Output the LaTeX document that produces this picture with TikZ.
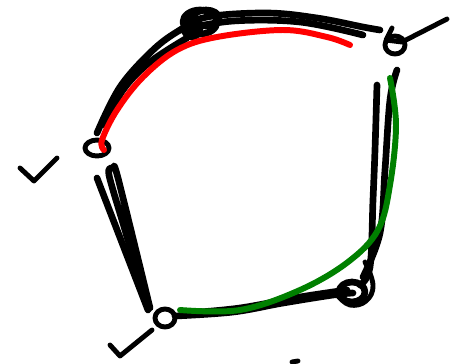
\documentclass[tikz,border=0pt]{standalone}
\usepackage{tikz}
\usetikzlibrary{calc}

\begin{document}
\begin{tikzpicture}[x=0.02cm, y=-0.02cm,
    ink/.style={line width=3.8pt, line cap=round, line join=round},
    thinink/.style={line width=2.8pt, line cap=round, line join=round},
    redpen/.style={line width=3.4pt, line cap=round, red},
    greenpen/.style={line width=3.4pt, line cap=round, green!50!black}]

    \useasboundingbox (0,0) rectangle (451,363);

    % --- vertices ---
    \coordinate (top) at (200,22);
    \coordinate (tr) at (395,45);
    \coordinate (lf) at (97,148);
    \coordinate (bl) at (165,318);
    \coordinate (br) at (352,292);

    % top scribble
    \draw[ink] (top) ellipse (17 and 12);
    \draw[ink] ($(top)+(6,-4)$) ellipse (13 and 8);
    \draw[ink] ($(top)+(-8,6)$) ellipse (8 and 9);

    % small loops
    \draw[thinink] (lf) ellipse (12 and 8);
    \draw[thinink] (bl) ellipse (10 and 9);
    \draw[thinink] (tr) ellipse (10 and 9);
    \draw[thinink] (392,28) -- (386,40) -- (402,42) -- (447,19);

    % bottom right scribble
    \draw[ink] (br) ellipse (13 and 10);
    \draw[thinink] plot[smooth, tension=0.7] coordinates
        {(365,262) (373,285) (366,301) (350,305) (338,296)};

    % --- black edges ---
    \draw[ink] plot[smooth, tension=0.6] coordinates
        {(97,133) (120,87) (153,50) (180,30) (207,17) (267,13) (317,18) (363,27) (380,30)};
    \draw[ink] plot[smooth, tension=0.6] coordinates
        {(180,30) (233,21) (300,22) (363,35)};
    \draw[ink] plot[smooth, tension=0.6] coordinates
        {(105,125) (123,90) (150,62) (187,38)};

    \draw[ink] plot[smooth, tension=0.6] coordinates
        {(377,85) (375,150) (373,200) (370,267) (360,285)};
    \draw[ink] plot[smooth, tension=0.6] coordinates
        {(397,70) (390,100) (385,170) (380,233) (363,277)};

    \draw[ink] plot[smooth, tension=0.6] coordinates
        {(175,316) (233,312) (283,303) (333,295) (353,293)};
    \draw[ink] plot[smooth, tension=0.6] coordinates
        {(187,313) (240,308) (300,297) (347,290)};

    \draw[ink] (97,178) -- (148,310);
    \draw[ink] plot[smooth, tension=0.5] coordinates
        {(147,305) (125,230) (109,175) (113,168) (118,178) (150,308)};

    % --- red path ---
    \draw[redpen] plot[smooth, tension=0.6] coordinates
        {(104,150) (102,140) (117,110) (143,77) (177,50) (217,37) (283,30) (327,37) (350,45)};

    % --- green path ---
    \draw[greenpen] plot[smooth, tension=0.6] coordinates
        {(390,78) (396,125) (390,185) (378,230) (348,262) (300,290) (240,310) (180,310)};

    % --- ticks ---
    \draw[thinink] (20,168) -- (34,181) -- (57,158);
    \draw[thinink] (110,345) -- (120,356) -- (152,330);
    \draw[thinink] (292,362) -- (298,361);

\end{tikzpicture}
\end{document}
